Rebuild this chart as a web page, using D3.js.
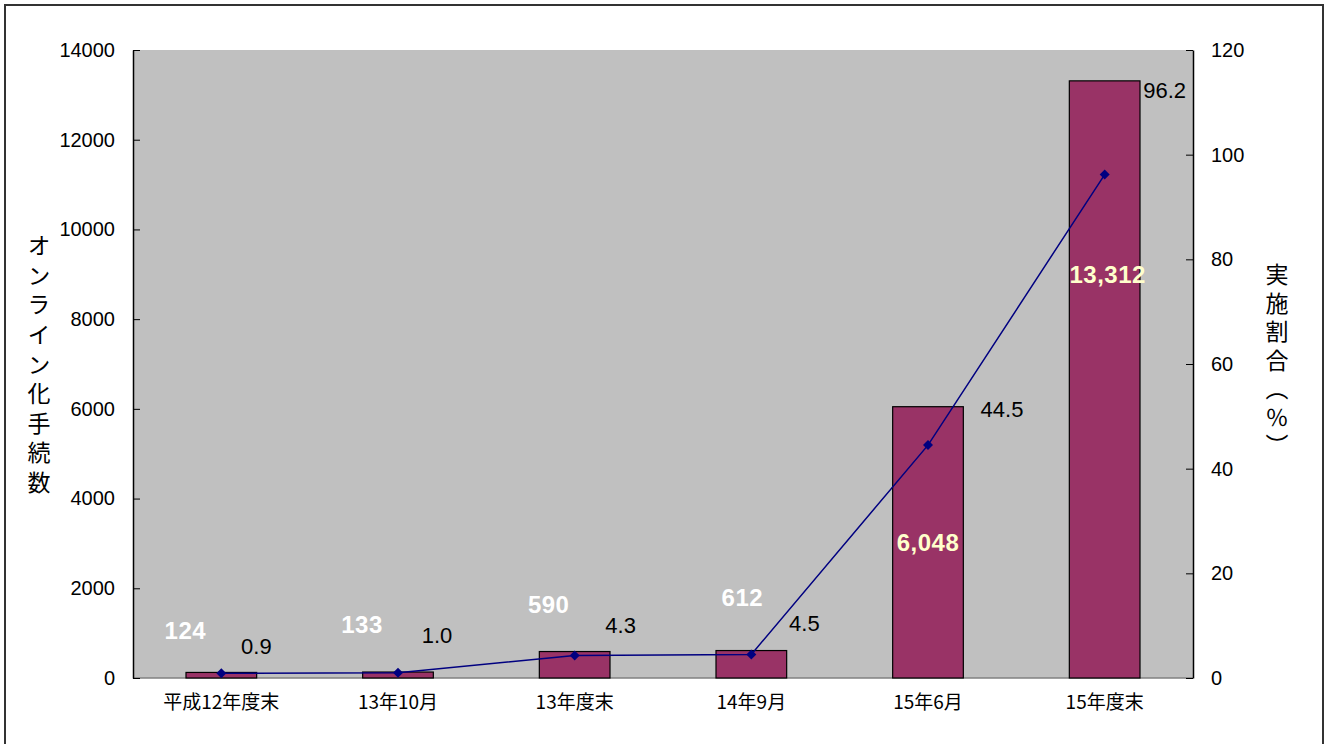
<!DOCTYPE html>
<html><head><meta charset="utf-8">
<script src="https://cdn.jsdelivr.net/npm/d3@7"></script>
<style>
html,body{margin:0;padding:0;background:#fff;}
svg{display:block;}
</style></head>
<body>
<svg id="c" width="1329" height="744"></svg>
<script>
// ---- data ----
const categories = ["平成12年度末","13年10月","13年度末","14年9月","15年6月","15年度末"];
const procedures = [124, 133, 590, 612, 6048, 13312];      // オンライン化手続数 (bars)
const ratio = [0.9, 1.0, 4.3, 4.5, 44.5, 96.2];            // 実施割合 % (line)
const leftTicks = [0,2000,4000,6000,8000,10000,12000,14000];
const rightTicks = [0,20,40,60,80,100,120];
const barLabels = ["124","133","590","612","6,048","13,312"];
const lineLabels = ["0.9","1.0","4.3","4.5","44.5","96.2"];
const leftTitle = "オンライン化手続数";
const rightTitle = "実施割合（％）";

// ---- label placement (pixels, relative to mark) ----
const barLabelOffsets = [[-36,-42],[-36,-48],[-26,-47],[-9,-53],[0,136],[3,193]];
const lineLabelOffsets = [[35,-27],[39,-38],[46,-30],[53,-31],[74,-36],[60,-84]];
const barLabelColors = ["#ffffff","#ffffff","#ffffff","#ffffff","#ffffcc","#ffffcc"];

const svg = d3.select("#c");
const L = 133, R = 1193, T = 50, B = 678;
const numFont = "'Liberation Sans', Arial, sans-serif";
const cjkFont = "'Noto Sans CJK JP', sans-serif";

// outer frame
svg.append("rect").attr("x",5).attr("y",5).attr("width",1318).attr("height",760)
  .attr("fill","#fff").attr("stroke","#333").attr("stroke-width",2);

// plot area
svg.append("rect").attr("x",L).attr("y",T).attr("width",R-L).attr("height",B-T).attr("fill","#c0c0c0");

const x = d3.scaleBand().domain(categories).range([L,R]).paddingInner(0.6).paddingOuter(0.3);
const yL = d3.scaleLinear().domain([0,14000]).range([B,T]);
const yR = d3.scaleLinear().domain([0,120]).range([B,T]);

// bottom axis line
svg.append("line").attr("x1",L).attr("x2",R).attr("y1",B).attr("y2",B).attr("stroke","#808080").attr("stroke-width",1.5);

// left axis
const gl = svg.append("g").attr("transform",`translate(${L},0)`)
  .call(d3.axisLeft(yL).tickValues(leftTicks).tickFormat(d3.format("d")).tickSizeInner(-7).tickSizeOuter(0).tickPadding(18));
gl.select(".domain").attr("stroke","#000").attr("stroke-width",1.5);
gl.selectAll(".tick line").attr("stroke","#000");
gl.selectAll("text").attr("font-family",numFont).attr("font-size",20).attr("fill","#000");

// right axis
const gr = svg.append("g").attr("transform",`translate(${R},0)`)
  .call(d3.axisRight(yR).tickValues(rightTicks).tickFormat(d3.format("d")).tickSizeInner(-7).tickSizeOuter(0).tickPadding(18));
gr.select(".domain").attr("stroke","#000").attr("stroke-width",1.5);
gr.selectAll(".tick line").attr("stroke","#000");
gr.selectAll("text").attr("font-family",numFont).attr("font-size",20).attr("fill","#000");

// category labels
svg.append("g").selectAll("text").data(categories).join("text")
  .attr("x",d=>x(d)+x.bandwidth()/2).attr("y",702).attr("dy","0.35em")
  .attr("text-anchor","middle").attr("font-family",cjkFont).attr("font-size",19).text(d=>d);

// bars
svg.append("g").selectAll("rect").data(procedures).join("rect")
  .attr("x",(d,i)=>x(categories[i])).attr("width",x.bandwidth())
  .attr("y",d=>yL(d)).attr("height",d=>B-yL(d))
  .attr("fill","#993366").attr("stroke","#000").attr("stroke-width",1.2);

// line
const cx = i => x(categories[i]) + x.bandwidth()/2;
svg.append("path").datum(ratio)
  .attr("d", d3.line().x((d,i)=>cx(i)).y(d=>yR(d)))
  .attr("fill","none").attr("stroke","#000080").attr("stroke-width",1.5);
svg.append("g").selectAll("path").data(ratio).join("path")
  .attr("d", d3.symbol(d3.symbolSquare, 50))
  .attr("transform",(d,i)=>`translate(${cx(i)},${yR(d)}) rotate(45)`)
  .attr("fill","#000080");

// bar labels
svg.append("g").selectAll("text").data(procedures).join("text")
  .attr("x",(d,i)=>cx(i)+barLabelOffsets[i][0]).attr("y",(d,i)=>yL(d)+barLabelOffsets[i][1])
  .attr("dy","0.36em").attr("text-anchor","middle")
  .attr("font-family",numFont).attr("font-weight","bold").attr("font-size",24)
  .attr("letter-spacing",0.5)
  .attr("fill",(d,i)=>barLabelColors[i]).text((d,i)=>barLabels[i]);

// line labels
svg.append("g").selectAll("text").data(ratio).join("text")
  .attr("x",(d,i)=>cx(i)+lineLabelOffsets[i][0]).attr("y",(d,i)=>yR(d)+lineLabelOffsets[i][1])
  .attr("dy","0.36em").attr("text-anchor","middle")
  .attr("font-family",numFont).attr("font-size",22).attr("fill","#000")
  .text((d,i)=>lineLabels[i]);

// axis titles (vertical)
svg.append("text").attr("x",39).attr("y",234)
  .attr("style","writing-mode: vertical-rl; text-orientation: upright;")
  .attr("font-family",cjkFont).attr("font-size",23).attr("letter-spacing",6.6)
  .text(leftTitle);
svg.append("text").attr("x",1277).attr("y",263)
  .attr("style","writing-mode: vertical-rl;")
  .attr("font-family",cjkFont).attr("font-size",23).attr("letter-spacing",5.5)
  .text(rightTitle);
</script>
</body></html>
